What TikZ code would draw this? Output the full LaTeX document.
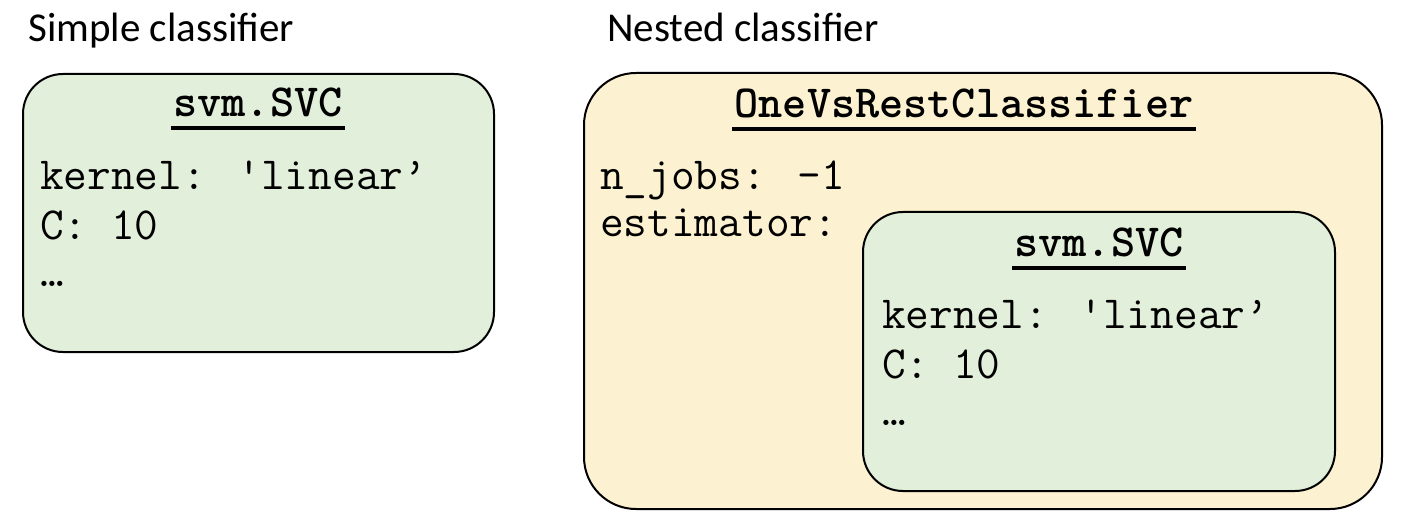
\documentclass[tikz,border=0pt]{standalone}
\usepackage{fontspec}
\setmainfont{Carlito}
\definecolor{boxgreen}{HTML}{E2EFDA}
\definecolor{boxyellow}{HTML}{FCF1D0}
\begin{document}
\begin{tikzpicture}[x=1pt,y=-1pt,
  heading/.style={anchor=base west,inner sep=0pt,font=\fontsize{41}{48}\selectfont},
  codetxt/.style={anchor=base west,inner sep=0pt,font=\fontsize{46}{52}\selectfont\ttfamily},
  codetitle/.style={anchor=base,inner sep=0pt,font=\fontsize{46}{52}\selectfont\ttfamily\bfseries},
  panel/.style={draw=black,line width=2pt,rounded corners=#1},
  uline/.style={line width=4pt}]
\useasboundingbox (0,0) rectangle (1410,526);
% left panel
\draw[panel=40pt,fill=boxgreen] (23,74) rectangle (494,352);
\node[heading] (h1) at (28,42) {Simple classifier};
\node[codetitle] (t1) at (258,117) {svm.SVC};
\draw[uline] ([xshift=-2pt,yshift=-11pt]t1.base west) -- ([xshift=2pt,yshift=-11pt]t1.base east);
\node[codetxt] (k1) at (40,190) {kernel: \textquotesingle linear’};
\node[codetxt] (c1) at (40,240) {C: 10};
\node[codetxt] (e1) at (40,287) {…};
% right panel
\node[heading] (h2) at (607,42) {Nested classifier};
\draw[panel=52pt,fill=boxyellow] (584,73) rectangle (1382,509);
\node[codetitle] (t2) at (964,118) {OneVsRestClassifier};
\draw[uline] ([xshift=-2pt,yshift=-11pt]t2.base west) -- ([xshift=2pt,yshift=-11pt]t2.base east);
\node[codetxt] (nj) at (600,190) {n\_jobs: -1};
\node[codetxt] (es) at (600,237) {estimator:};
\draw[panel=40pt,fill=boxgreen] (863,212) rectangle (1335,491);
\node[codetitle] (t3) at (1099,257) {svm.SVC};
\draw[uline] ([xshift=-2pt,yshift=-11pt]t3.base west) -- ([xshift=2pt,yshift=-11pt]t3.base east);
\node[codetxt] (k2) at (882,329) {kernel: \textquotesingle linear’};
\node[codetxt] (c2) at (882,378) {C: 10};
\node[codetxt] (e2) at (882,425) {…};
\end{tikzpicture}
\end{document}
